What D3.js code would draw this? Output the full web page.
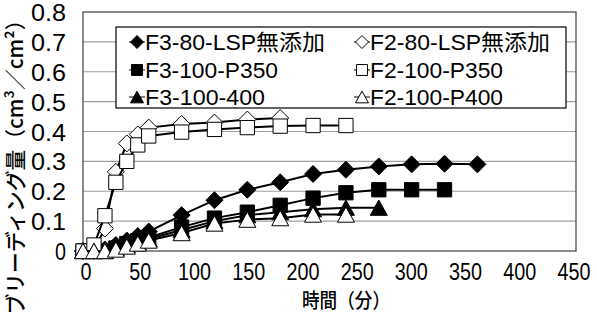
<!DOCTYPE html>
<html><head><meta charset="utf-8">
<script src="https://cdn.jsdelivr.net/npm/d3@7"></script>
<style>body{margin:0;background:#fff}svg{display:block}</style>
</head><body>
<svg id="c" width="597" height="320"></svg>
<script>
const times = [0,10,20,30,40,50,60,90,120,150,180,210,240,270,300,330,360];
const seriesNames = ["F3-80-LSP無添加","F2-80-LSP無添加","F3-100-P350","F2-100-P350","F3-100-400","F2-100-P400"];
const f3_80 = [0,0,0.005,0.02,0.035,0.05,0.065,0.12,0.17,0.205,0.23,0.258,0.272,0.283,0.29,0.292,0.29];
const f2_80 = [0,0.005,0.075,0.265,0.36,0.39,0.413,0.425,0.43,0.44,0.445];
const f3_100_p350 = [0,0,0,0.01,0.025,0.035,0.045,0.08,0.11,0.13,0.153,0.177,0.195,0.205,0.205,0.205];
const f2_100_p350 = [0,0.02,0.118,0.23,0.3,0.355,0.385,0.398,0.407,0.413,0.418,0.42,0.42];
const f3_100_400 = [0,0,0,0.01,0.02,0.03,0.04,0.07,0.1,0.12,0.13,0.14,0.145,0.145];
const f2_100_p400 = [0,0,0,0.005,0.015,0.025,0.035,0.06,0.092,0.105,0.11,0.122,0.122];
const xTicks = [0,50,100,150,200,250,300,350,400,450];
const yTicks = [0,0.1,0.2,0.3,0.4,0.5,0.6,0.7,0.8];
const xTitle = "時間（分）";
const yTitle = "ブリーディング量（cm³／cm²）";

const seriesValues = [f3_80,f2_80,f3_100_p350,f2_100_p350,f3_100_400,f2_100_p400];
const shapes = ["diamond","diamond","square","square","triangle","triangle"];
const fills = ["#000","#fff","#000","#fff","#000","#fff"];

const svg = d3.select("#c");
const font = "'Liberation Sans','Noto Sans CJK JP',sans-serif";
const cjk = "'Noto Sans CJK JP',sans-serif";
const L=83, R=576, T=12, B=251;
const x = d3.scaleLinear().domain([0,450]).range([L,R]);
const y = d3.scaleLinear().domain([0,0.8]).range([B,T]);

// gridlines
svg.append("g").selectAll("line").data(yTicks.filter(v=>v>0&&v<0.8)).join("line")
  .attr("x1",L).attr("x2",R).attr("y1",d=>y(d)).attr("y2",d=>y(d))
  .attr("stroke","#a0a0a0").attr("stroke-width",1.2);
svg.append("rect").attr("x",L).attr("y",T).attr("width",R-L).attr("height",B-T)
  .attr("fill","none").attr("stroke","#404040").attr("stroke-width",1.2);

// y tick labels
svg.append("g").selectAll("text").data(yTicks).join("text")
  .attr("x",66).attr("y",d=>y(d)+9).attr("text-anchor","end")
  .attr("font-family",font).attr("font-size",23).attr("fill","#000")
  .each(function(d){const s=d===0?"0":d3.format(".1f")(d);
    d3.select(this).text(s).attr("textLength",s.length>1?35:11).attr("lengthAdjust","spacingAndGlyphs");});

// x tick labels
svg.append("g").selectAll("text").data(xTicks).join("text")
  .attr("x",d=>x(d)+3-d*0.011).attr("y",280).attr("text-anchor","middle")
  .attr("font-family",font).attr("font-size",23).attr("fill","#000")
  .attr("textLength",d=>String(d).length*11).attr("lengthAdjust","spacingAndGlyphs")
  .text(d=>d);

// titles
svg.append("text").attr("x",346).attr("y",308).attr("text-anchor","middle")
  .attr("font-family",cjk).attr("font-size",20).attr("font-weight",500).attr("fill","#000")
  .attr("textLength",88).attr("lengthAdjust","spacingAndGlyphs")
  .text(xTitle);
svg.append("text").attr("transform","translate(23,162) rotate(-90)").attr("text-anchor","middle")
  .attr("font-family",cjk).attr("font-size",21).attr("font-weight",500).attr("fill","#000")
  .attr("textLength",305).attr("lengthAdjust","spacingAndGlyphs")
  .text(yTitle);

function markerPath(shape, s){
  if(shape==="diamond"){const h=s*0.5; return `M0,${-h}L${h},0L0,${h}L${-h},0Z`;}
  if(shape==="square"){const h=s*0.42; return `M${-h},${-h}H${h}V${h}H${-h}Z`;}
  const w=s*0.5, hh=s*0.45; return `M0,${-hh}L${w},${hh}L${-w},${hh}Z`;
}

const line = d3.line().x(d=>x(d[0])).y(d=>y(d[1]));
seriesValues.forEach((vals,i)=>{
  const pts = vals.map((v,j)=>[times[j],v]);
  const g = svg.append("g");
  g.append("path").attr("d",line(pts)).attr("fill","none").attr("stroke","#000").attr("stroke-width",2);
  g.selectAll("path.m").data(pts).join("path").attr("class","m")
    .attr("transform",d=>`translate(${x(d[0])},${y(d[1])})`)
    .attr("d",markerPath(shapes[i],17))
    .attr("fill",fills[i]).attr("stroke","#000").attr("stroke-width",1);
});

// legend
const lg = svg.append("g");
lg.append("rect").attr("x",116).attr("y",27).attr("width",450).attr("height",81)
  .attr("fill","#fff").attr("stroke","#000").attr("stroke-width",1.2);
const rowY=[42,70,97], colX=[137,362], txtX=[145,370];
const txtLen=[180,180,133,133,120,133];
seriesNames.forEach((n,i)=>{
  const c=i%2, r=Math.floor(i/2);
  lg.append("line").attr("x1",colX[c]-8).attr("x2",colX[c]+8).attr("y1",rowY[r]).attr("y2",rowY[r])
    .attr("stroke","#000").attr("stroke-width",1);
  lg.append("path").attr("transform",`translate(${colX[c]},${rowY[r]})`)
    .attr("d",markerPath(shapes[i],13)).attr("fill",fills[i]).attr("stroke","#000").attr("stroke-width",1);
  lg.append("text").attr("x",txtX[c]).attr("y",rowY[r]+8)
    .attr("font-family",font).attr("font-size",22).attr("textLength",txtLen[i]).attr("lengthAdjust","spacingAndGlyphs")
    .text(n);
});
</script>
</body></html>
